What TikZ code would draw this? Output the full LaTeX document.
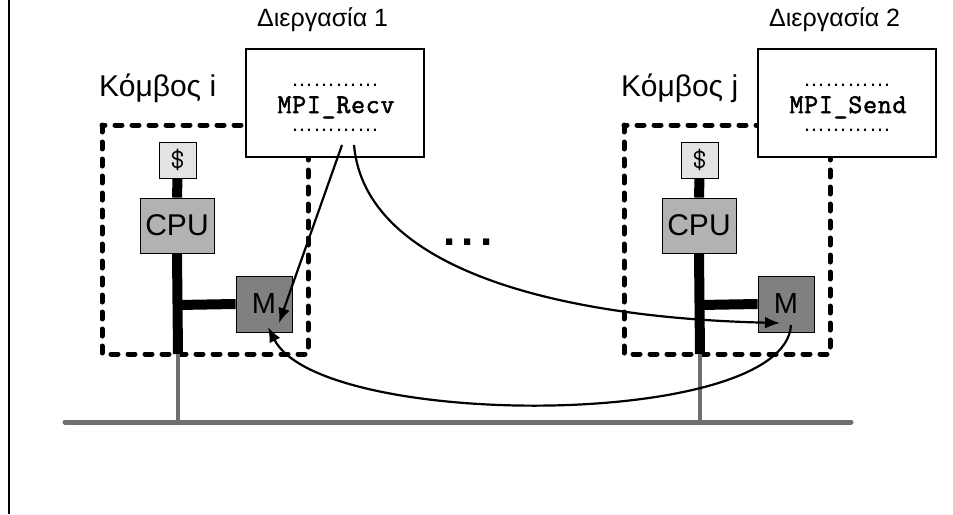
\documentclass[tikz,border=0pt]{standalone}
\usepackage{fontspec}
\setmainfont{Liberation Sans}
\newfontfamily\callfont{Latin Modern Mono}[FakeBold=2,LetterSpace=3]
\usetikzlibrary{arrows.meta}
\definecolor{cachegray}{HTML}{E3E3E3}
\definecolor{cpugray}{HTML}{B2B2B2}
\definecolor{memgray}{HTML}{808080}
\definecolor{busgray}{HTML}{6E6E6E}
\begin{document}
\begin{tikzpicture}[x=1pt,y=-1pt,
    part/.style={draw,line width=0.8pt,inner sep=0pt},
    proc/.style={draw,line width=1.3pt,fill=white,minimum width=178pt,minimum height=108pt,inner sep=0pt},
    txt/.style={inner sep=0pt},
    wire/.style={line width=10pt},
    bus/.style={draw=busgray,line width=5pt,line cap=round},
    nodebox/.style={line width=5pt,dash pattern=on 7pt off 10pt,line cap=round},
    msg/.style={line width=2.2pt,-{Latex[length=15pt,width=12pt]}}]
  \def\fsz#1{\fontsize{#1}{#1}\selectfont}
  % one node of the cluster
  \def\komvos#1#2{
    \begin{scope}[xshift=#1]
      \draw[nodebox] (102,125) rectangle (308,354);
      \node[txt,anchor=base west,font=\fsz{30}] (lbl#2) at (99,96) {Κόμβος #2};
      \node[part,fill=cachegray,minimum width=37pt,minimum height=36pt,font=\fsz{28}\ttfamily] (cache#2) at (177.5,160) {\$};
      \node[part,fill=cpugray,minimum width=74pt,minimum height=55pt,font=\fsz{30}] (cpu#2) at (177,225.5) {CPU};
      \node[part,fill=memgray,minimum width=56pt,minimum height=56pt,font=\fsz{29}] (mem#2) at (264,304) {M};
      \coordinate (joint#2) at (178,305);
      \coordinate (tap#2) at (178,354);
      \coordinate (stub#2) at (178,422);
      \draw[wire] (cache#2.south) -- (cpu#2.north);
      \draw[wire] (cpu#2.south) -- (tap#2);
      \draw[wire] (joint#2) -- (mem#2.west);
      \draw[bus,line width=4pt,line cap=butt] (tap#2) -- (stub#2);
    \end{scope}
  }
  % one process
  \def\diergasia#1#2#3{
    \begin{scope}[xshift=#1]
      \node[txt,anchor=base west,font=\fsz{25}] (title#2) at (257,27) {Διεργασία #2};
      \node[proc] (proc#2) at (335,103) {};
      \node[txt,anchor=base,font=\fsz{22}] (dotsa#2) at (335,86) {…………};
      \node[txt,anchor=base,font=\fsz{27}\callfont] (call#2) at (336,113) {#3};
      \node[txt,anchor=base,font=\fsz{22}] (dotsb#2) at (335,131) {…………};
    \end{scope}
  }
  \useasboundingbox (0,0) rectangle (953,514);
  \draw[line width=1.5pt] (9,0) -- (9,514);
  \coordinate (busw) at (65,422);
  \coordinate (buse) at (851,422);
  \draw[bus] (busw) -- (buse);
  \komvos{0}{i}
  \komvos{522}{j}
  \diergasia{0}{1}{MPI\_Recv}
  \diergasia{512}{2}{MPI\_Send}
  \node[txt,anchor=base,font=\fsz{44}\bfseries] (more) at (468,245) {.\kern6pt.\kern6pt.};
  % messages
  \coordinate (recva) at (342,145);
  \coordinate (recvb) at (354,145);
  \coordinate (send) at (791,325);
  \coordinate (ini) at (279,323);
  \coordinate (inj) at (780,323);
  \coordinate (backi) at (268,327);
  \draw[msg] (recva) -- (ini);
  \draw[msg] (recvb) .. controls (365,270) and (560,318) .. (inj);
  \draw[msg] (send) .. controls (785,430) and (320,430) .. (backi);
\end{tikzpicture}
\end{document}
